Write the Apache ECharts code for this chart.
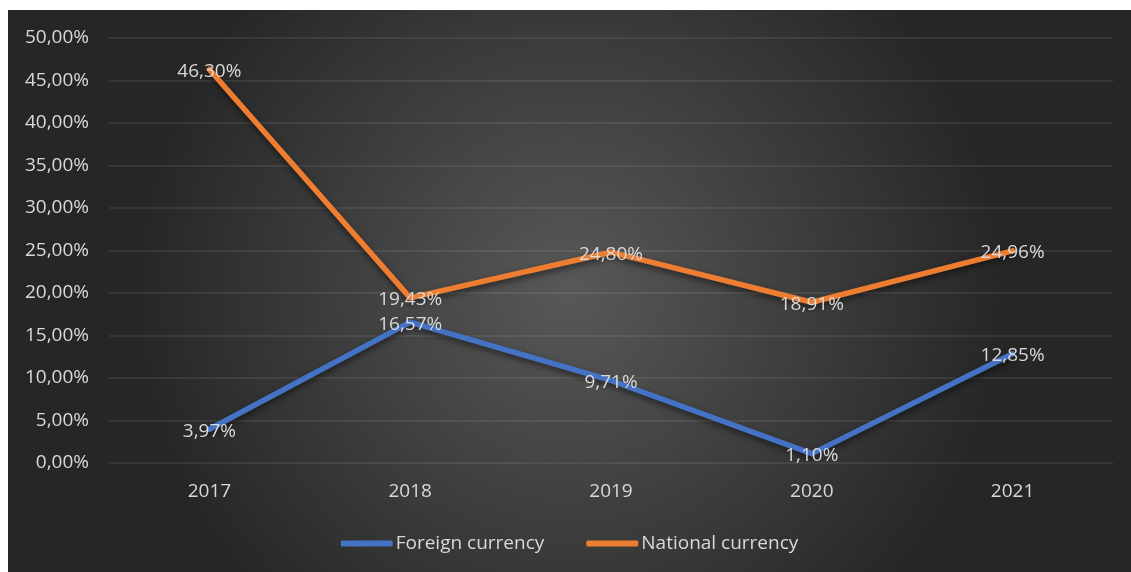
<!DOCTYPE html>
<html>
<head>
<meta charset="utf-8">
<script src="https://cdn.jsdelivr.net/npm/echarts@6/dist/echarts.min.js"></script>
<style>
  html, body { margin: 0; padding: 0; background: #ffffff; }
  #chart { position: absolute; left: 8px; top: 10px; width: 1123px; height: 562px; }
</style>
</head>
<body>
<div id="chart"></div>
<script>
// Years on the category axis
const years = ['2017', '2018', '2019', '2020', '2021'];
// Shares in percent
const foreignCurrency = [3.97, 16.57, 9.71, 1.10, 12.85];
const nationalCurrency = [46.30, 19.43, 24.80, 18.91, 24.96];
const seriesNames = ['Foreign currency', 'National currency'];

const FONT = '"Open Sans", "Noto Sans", sans-serif';
const TEXT = '#d9d9d9';
const FS = 19;

// Percent with a decimal comma, e.g. 46,30%
const pct = v => Number(v).toFixed(2).replace('.', ',') + '%';

const chart = echarts.init(document.getElementById('chart'), null, { renderer: 'canvas' });

function lineSeries(name, data, color) {
  return {
    name: name,
    type: 'line',
    data: data,
    symbol: 'circle',
    symbolSize: 0,
    showSymbol: true,
    itemStyle: { color: color },
    lineStyle: {
      color: color,
      width: 5.5,
      cap: 'round',
      join: 'round',
      shadowColor: 'rgba(0,0,0,0.55)',
      shadowBlur: 6,
      shadowOffsetY: 3
    },
    label: {
      show: true,
      position: 'inside',
      offset: [0, 2],
      formatter: p => pct(p.value),
      color: TEXT,
      fontFamily: FONT,
      fontSize: FS
    },
    emphasis: { disabled: true },
    animation: false
  };
}

chart.setOption({
  backgroundColor: {
    type: 'radial',
    x: 0.5, y: 0.5, r: 0.78,
    colorStops: [
      { offset: 0, color: '#585858' },
      { offset: 1, color: '#262626' }
    ]
  },
  textStyle: { fontFamily: FONT },
  grid: { left: 101, right: 18, top: 28, bottom: 109, containLabel: false },
  legend: {
    bottom: 14,
    left: 'center',
    icon: 'roundRect',
    itemWidth: 52,
    itemHeight: 6,
    itemGap: 42,
    textStyle: { color: TEXT, fontSize: FS, fontFamily: FONT, padding: [0, 0, 0, -2] },
    data: seriesNames
  },
  xAxis: {
    type: 'category',
    data: years,
    boundaryGap: true,
    axisLine: { show: false },
    axisTick: { show: false },
    axisLabel: { color: TEXT, fontSize: FS, fontFamily: FONT, margin: 19 }
  },
  yAxis: {
    type: 'value',
    min: 0,
    max: 50,
    interval: 5,
    axisLine: { show: false },
    axisTick: { show: false },
    axisLabel: { color: TEXT, fontSize: FS, fontFamily: FONT, margin: 20, formatter: v => pct(v) },
    splitLine: { lineStyle: { color: 'rgba(255,255,255,0.1)', width: 1.5 } }
  },
  series: [
    lineSeries(seriesNames[0], foreignCurrency, '#4472c4'),
    lineSeries(seriesNames[1], nationalCurrency, '#ed7d31')
  ]
});
</script>
</body>
</html>
